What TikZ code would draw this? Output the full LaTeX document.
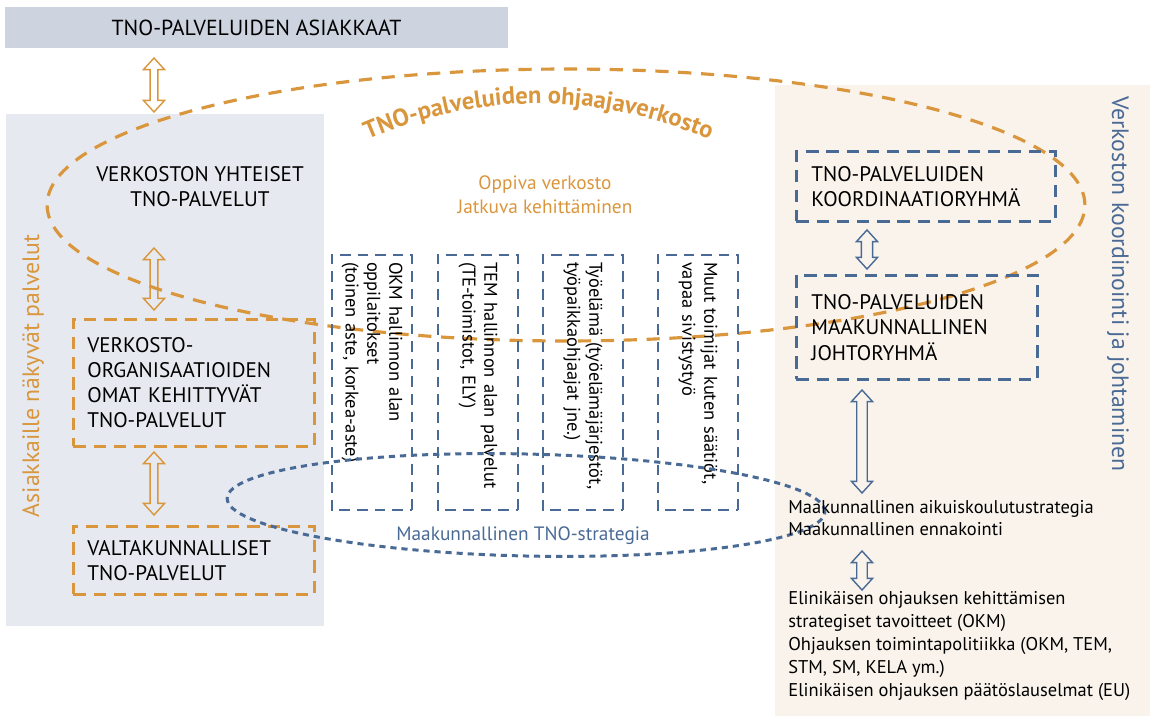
\documentclass[tikz,border=0pt]{standalone}
\usepackage{fontspec}
\setmainfont{PT Sans}
\usetikzlibrary{calc,decorations.text}
\definecolor{tnoorange}{HTML}{D9963C}
\definecolor{tnoblue}{HTML}{4A6A96}
\definecolor{bannergray}{HTML}{CDD3DF}
\definecolor{panelgray}{HTML}{E6E9EF}
\definecolor{panelbeige}{HTML}{F9F3EC}
\newcommand{\hollowarrow}[4]{
  \draw[#1,line width=0.8pt,line join=miter] let \p1=(#2), \p2=(#3) in
    (\x1,\y1) -- (\x1+6pt,\y1-6.6pt) -- (\x1+#4,\y1-6.6pt) -- (\x1+#4,\y2+6.6pt)
    -- (\x1+6pt,\y2+6.6pt) -- (\x1,\y2) -- (\x1-6pt,\y2+6.6pt) -- (\x1-#4,\y2+6.6pt)
    -- (\x1-#4,\y1-6.6pt) -- (\x1-6pt,\y1-6.6pt) -- cycle;
}

\begin{document}
\begin{tikzpicture}[x=0.02cm,y=-0.02cm,font=\fontsize{11}{13}\selectfont]
\tikzstyle{obox}=[draw=tnoorange,line width=1.6pt,dash pattern=on 7pt off 4.5pt,anchor=north west,align=left,inner xsep=0.28cm,inner ysep=0pt,font=\fontsize{12}{14.2}\selectfont]
\tikzstyle{bbox}=[draw=tnoblue,line width=1.6pt,dash pattern=on 7pt off 4.5pt,anchor=north west,align=left,inner xsep=0.3cm,inner ysep=0pt,font=\fontsize{12}{14.5}\selectfont]
\tikzstyle{srcbox}=[draw=tnoblue,line width=1.5pt,dash pattern=on 6pt off 4pt,rotate=-90,minimum width=5.1cm,minimum height=1.6cm,text width=4.82cm,inner xsep=0.14cm,inner ysep=0pt,align=left,font=\fontsize{10.5}{12.5}\selectfont]
\tikzstyle{plain}=[align=left,anchor=west,inner sep=0pt,font=\fontsize{10.5}{13}\selectfont]
\useasboundingbox (0,0) rectangle (1158,716);

\fill[panelgray] (6,114) rectangle (324,626);
\fill[panelbeige] (775,85) rectangle (1150,716);

\node[fill=bannergray,minimum width=10.06cm,minimum height=0.82cm,font=\fontsize{12.4}{15}\selectfont] (clients) at (256.5,27.5) {TNO-PALVELUIDEN ASIAKKAAT};

\node[rotate=90,text=tnoorange,font=\fontsize{13.5}{15}\selectfont] (visible) at (33,376) {Asiakkaille näkyvät palvelut};
\node[rotate=-90,text=tnoblue,font=\fontsize{13.5}{15}\selectfont] (steering) at (1118,284) {Verkoston koordinointi ja johtaminen};

% ohjaajaverkosto
\draw[tnoorange,line width=1.8pt,dash pattern=on 7.5pt off 5.5pt] (566,205) ellipse[x radius=10.38cm,y radius=2.72cm];
\path[decorate,decoration={text along path,text align=center,text color=tnoorange,
  text={|\fontsize{14}{14}\bfseries|TNO-palveluiden ohjaajaverkosto}}]
  (345,150) .. controls (470,88) and (605,88) .. (732,150);
\node[text=tnoorange,align=center,font=\fontsize{11}{13.5}\selectfont] (learning) at (545,195) {Oppiva verkosto\\Jatkuva kehittäminen};

% vasen puoli
\node[align=center,font=\fontsize{12}{14.2}\selectfont] (common) at (200,187) {VERKOSTON YHTEISET\\TNO-PALVELUT};
\node[obox,minimum width=4.82cm,minimum height=2.54cm,text width=4.26cm] (own) at (72,318) {VERKOSTO-\\ORGANISAATIOIDEN\\OMAT KEHITTYVÄT\\TNO-PALVELUT};
\node[obox,minimum width=4.82cm,minimum height=1.36cm,text width=4.26cm] (national) at (72,525) {VALTAKUNNALLISET\\TNO-PALVELUT};
\coordinate (a1) at (154,58);  \coordinate (b1) at (154,112);
\coordinate (a2) at (154,248); \coordinate (b2) at (154,310);
\coordinate (a3) at (154,452); \coordinate (b3) at (154,515);
\hollowarrow{tnoorange}{a1}{b1}{2.2pt}
\hollowarrow{tnoorange}{a2}{b2}{2.2pt}
\hollowarrow{tnoorange}{a3}{b3}{2.2pt}

% toimijat
\foreach \cx/\txt [count=\i] in {372/{OKM hallinnon alan\\oppilaitokset\\(toinen aste, korkea-aste)},
    478/{TEM hallinnon alan palvelut\\(TE-toimistot, ELY)},
    583/{Työelämä (työelämäjärjestöt,\\työpaikkaohjaajat jne.)},
    698/{Muut toimijat kuten säätiöt,\\vapaa sivistystyö}}
  \node[srcbox] (actor\i) at (\cx,382.5) {\txt};

\draw[tnoblue,line width=1.7pt,dash pattern=on 3.5pt off 2.8pt,rotate around={-1.3:(526,505)}] (526,505) ellipse[x radius=5.98cm,y radius=1.02cm];
\node[text=tnoblue] (strategy) at (523,536) {Maakunnallinen TNO-strategia};

% oikea puoli
\node[bbox,minimum width=5.18cm,minimum height=1.4cm,text width=4.58cm] (coord) at (795,150) {TNO-PALVELUIDEN\\KOORDINAATIORYHMÄ};
\node[bbox,minimum width=4.82cm,minimum height=2.08cm,text width=4.22cm] (board) at (795,274) {TNO-PALVELUIDEN\\MAAKUNNALLINEN\\JOHTORYHMÄ};
\node[plain] (regional) at (788,518) {Maakunnallinen aikuiskoulutustrategia\\Maakunnallinen ennakointi};
\node[plain] (policy) at (788,646) {Elinikäisen ohjauksen kehittämisen\\strategiset tavoitteet (OKM)\\Ohjauksen toimintapolitiikka (OKM, TEM,\\STM, SM, KELA ym.)\\Elinikäisen ohjauksen päätöslauselmat (EU)};
\coordinate (c1) at (867,230); \coordinate (d1) at (867,269);
\coordinate (c2) at (862,390); \coordinate (d2) at (862,493);
\coordinate (c3) at (862,551); \coordinate (d3) at (862,590);
\hollowarrow{tnoblue}{c1}{d1}{3.2pt}
\hollowarrow{tnoblue}{c2}{d2}{3pt}
\hollowarrow{tnoblue}{c3}{d3}{3pt}
\end{tikzpicture}
\end{document}
